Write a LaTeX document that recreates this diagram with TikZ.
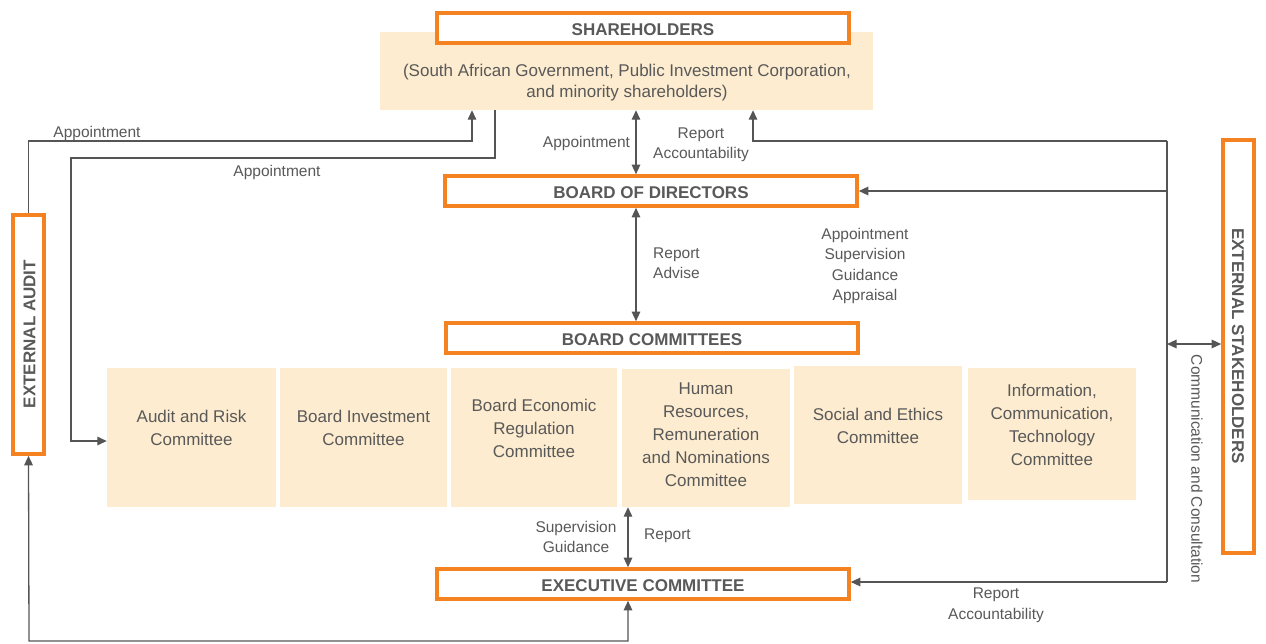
\documentclass[tikz,border=0pt]{standalone}
\usepackage{fontspec}
\setmainfont{Liberation Sans}
\usetikzlibrary{arrows.meta}
\definecolor{org}{RGB}{245,130,32}
\definecolor{beige}{RGB}{253,236,207}
\definecolor{txt}{RGB}{89,89,89}
\definecolor{ln}{RGB}{85,85,85}
\tikzset{
  titlebox/.style={draw=org, line width=3.6pt, fill=white, inner sep=0pt, text=txt,
    text height=14.5pt, text depth=0pt,
    font=\fontsize{17}{20}\selectfont\bfseries},
  beigebox/.style={fill=beige, draw=none, inner sep=0pt},
  lbl/.style={text=txt, font=\fontsize{15.5}{20.5}\selectfont, align=center, inner sep=0pt},
  ctext/.style={text=txt, font=\fontsize{17}{23}\selectfont, align=center, inner sep=0pt},
  conn/.style={draw=ln, line width=1.3pt},
  arr/.style={conn, -{Triangle[length=9.5pt,width=8.5pt]}},
  dbl/.style={conn, {Triangle[length=9.5pt,width=8.5pt]}-{Triangle[length=9.5pt,width=8.5pt]}},
}
\begin{document}
\begin{tikzpicture}[x=1pt,y=-1pt]
\useasboundingbox[fill=white] (0,0) rectangle (1266,643);

% shareholders
\node[beigebox, minimum width=493, minimum height=78] (sh) at (626.5,71) {};
\node[ctext, font=\fontsize{17}{21}\selectfont] (shtxt) at (627,82.5)
  {(South African Government, Public Investment Corporation,\\and minority shareholders)};
\node[titlebox, minimum width=412, minimum height=30] (shtitle) at (643,28) {SHAREHOLDERS};

% main boxes
\node[titlebox, minimum width=412, minimum height=30] (bod) at (651,191) {BOARD OF DIRECTORS};
\node[titlebox, minimum width=412, minimum height=30] (bcm) at (652,338) {BOARD COMMITTEES};
\node[titlebox, minimum width=412, minimum height=30] (exec) at (643,584) {EXECUTIVE COMMITTEE};
\node[titlebox, minimum width=31, minimum height=239] (ea) at (28.5,334.5) {};
\node[text=txt, font=\fontsize{17}{20}\selectfont\bfseries, rotate=90, inner sep=0pt] (eatxt) at (29.5,334) {EXTERNAL AUDIT};
\node[titlebox, minimum width=31, minimum height=413] (stk) at (1238.5,346.5) {};
\node[text=txt, font=\fontsize{17}{20}\selectfont\bfseries, rotate=-90, inner sep=0pt] (stktxt) at (1238,346) {EXTERNAL STAKEHOLDERS};

% committees
\node[beigebox, minimum width=169, minimum height=139] (c1) at (191.5,437.5) {};
\node[beigebox, minimum width=167, minimum height=139] (c2) at (363.5,437.5) {};
\node[beigebox, minimum width=166, minimum height=139] (c3) at (534,437.5) {};
\node[beigebox, minimum width=168, minimum height=138] (c4) at (706,438) {};
\node[beigebox, minimum width=168, minimum height=138] (c5) at (878,435) {};
\node[beigebox, minimum width=168, minimum height=132] (c6) at (1052,434) {};
\node[ctext] (t1) at (191.5,428) {Audit and Risk\\Committee};
\node[ctext] (t2) at (363.5,428) {Board Investment\\Committee};
\node[ctext] (t3) at (534,428) {Board Economic\\Regulation\\Committee};
\node[ctext] (t4) at (706,435) {Human\\Resources,\\Remuneration\\and Nominations\\Committee};
\node[ctext] (t5) at (878,426) {Social and Ethics\\Committee};
\node[ctext] (t6) at (1052,425) {Information,\\Communication,\\Technology\\Committee};

% helper coordinates
\coordinate (xA) at (636,0);
\coordinate (xR) at (753,141);
\coordinate (bustop) at (1167,141);
\coordinate (busbot) at (1167,582);
\coordinate (busmid) at (1167,191);
\coordinate (busst) at (1167,344);
\coordinate (a1) at (472,141);
\coordinate (a2) at (495,158);
\coordinate (a3) at (71,441);
\coordinate (xE) at (628,0);
\coordinate (bot) at (29,641);

% connectors
\draw[dbl] (sh.south -| xA) -- (bod.north -| xA);
\draw[dbl] (bod.south -| xA) -- (bcm.north -| xA);
\draw[dbl] (c4.south -| xE) -- (exec.north -| xE);
\draw[conn] (bustop) -- (busbot);
\draw[arr] (bustop) -- (xR) -- (sh.south -| xR);
\draw[arr] (busmid) -- (bod.east |- busmid);
\draw[arr] (busbot) -- (exec.east |- busbot);
\draw[dbl] (busst) -- (stk.west |- busst);
\draw[arr] (ea.north) |- (a1) -- (sh.south -| a1);
\draw[arr] (sh.south -| a2) -- (a2) -| (a3) -- (c1.west |- a3);
\draw[dbl] (ea.south) -- (bot) -| (exec.south -| xE);

% labels
\node[lbl] (l1) at (97,133) {Appointment};
\node[lbl] (l2) at (277,172) {Appointment};
\node[lbl] (l3) at (586.5,143) {Appointment};
\node[lbl] (l4) at (701,145) {Report\\Accountability};
\node[lbl, align=left, anchor=west] (l5) at (653,263) {Report\\Advise};
\node[lbl] (l6) at (865,266) {Appointment\\Supervision\\Guidance\\Appraisal};
\node[lbl] (l7) at (576,537) {Supervision\\Guidance};
\node[lbl] (l8) at (667.5,536) {Report};
\node[lbl] (l9) at (996,605.5) {Report\\Accountability};
\node[lbl, rotate=-90] (l10) at (1197,469) {Communication and Consultation};
\end{tikzpicture}
\end{document}
